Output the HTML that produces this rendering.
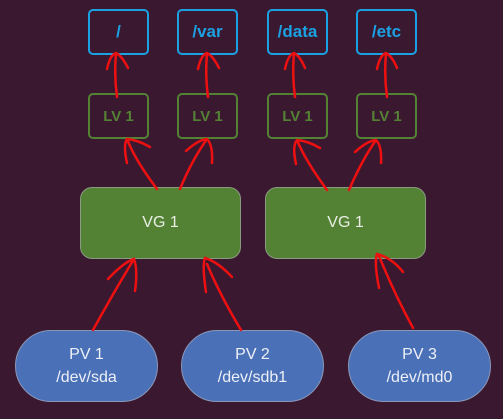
<!DOCTYPE html>
<html><head><style>
html,body{margin:0;padding:0}
body{width:503px;height:419px;background:#3a1830;position:relative;overflow:hidden;font-family:"Liberation Sans",sans-serif}
.b{position:absolute;box-sizing:border-box;display:flex;align-items:center;justify-content:center;text-align:center}
.mp{border:2.5px solid #1ba1e2;border-radius:5px;color:#1ba1e2;font-weight:bold;font-size:17px;width:61px;height:46px;top:9px}
.lv{border:2.5px solid #548235;border-radius:5px;color:#548235;font-weight:bold;font-size:15px;width:61px;height:46px;top:93px}
.vg{background:#548235;border:1px solid #8a9a80;border-radius:12px;color:#e8eee4;font-size:16px;width:161px;height:72px;top:187px}
.pv{background:#4a71b8;border:1px solid #8a96b8;border-radius:36px;color:#eef0f6;font-size:16px;width:143px;height:72px;top:330px;line-height:23px}
svg{position:absolute;left:0;top:0}
</style></head><body>
<div class="b mp" style="left:88px">/</div>
<div class="b mp" style="left:177px">/var</div>
<div class="b mp" style="left:267px">/data</div>
<div class="b mp" style="left:356px">/etc</div>
<div class="b lv" style="left:88px">LV 1</div>
<div class="b lv" style="left:177px">LV 1</div>
<div class="b lv" style="left:267px">LV 1</div>
<div class="b lv" style="left:356px">LV 1</div>
<div class="b vg" style="left:80px">VG 1</div>
<div class="b vg" style="left:265px">VG 1</div>
<div class="b pv" style="left:15px">PV 1<br>/dev/sda</div>
<div class="b pv" style="left:181px">PV 2<br>/dev/sdb1</div>
<div class="b pv" style="left:348px">PV 3<br>/dev/md0</div>
<svg width="503" height="419" fill="none" stroke="#ee1010" stroke-width="2.5" stroke-linecap="round">
<path d="M117 97 Q114 75 116 53 M107 69 Q110 55 116 53 Q122 56 128 68"/>
<path d="M208 97 Q205 75 207 53 M198 69 Q201 55 207 53 Q213 56 219 68"/>
<path d="M295 97 Q292 75 294 53 M285 69 Q288 55 294 53 Q300 56 305 68"/>
<path d="M387 97 Q384 75 386 53 M377 69 Q380 55 386 53 Q392 56 397 68"/>
<path d="M157 189 Q135 160 127 139 M127 163 Q123 145 127 139 Q138 140 150 147"/>
<path d="M180 189 Q192 160 207 139 M186 151 Q198 140 207 139 Q213 145 212 163"/>
<path d="M327 190 Q305 160 297 140 M296 164 Q292 146 297 140 Q308 141 320 148"/>
<path d="M349 190 Q362 160 376 140 M355 152 Q367 141 376 140 Q382 146 381 163"/>
<path d="M93 330 Q115 290 134 259 M108 279 Q124 262 134 259 Q138 270 135 291"/>
<path d="M241 330 Q220 295 207 264 M206 292 Q202 265 205 258 Q218 262 232 277"/>
<path d="M413 328 Q395 295 379 256 M379 288 Q374 262 377 254 Q392 258 403 272"/>
</svg>
</body></html>
